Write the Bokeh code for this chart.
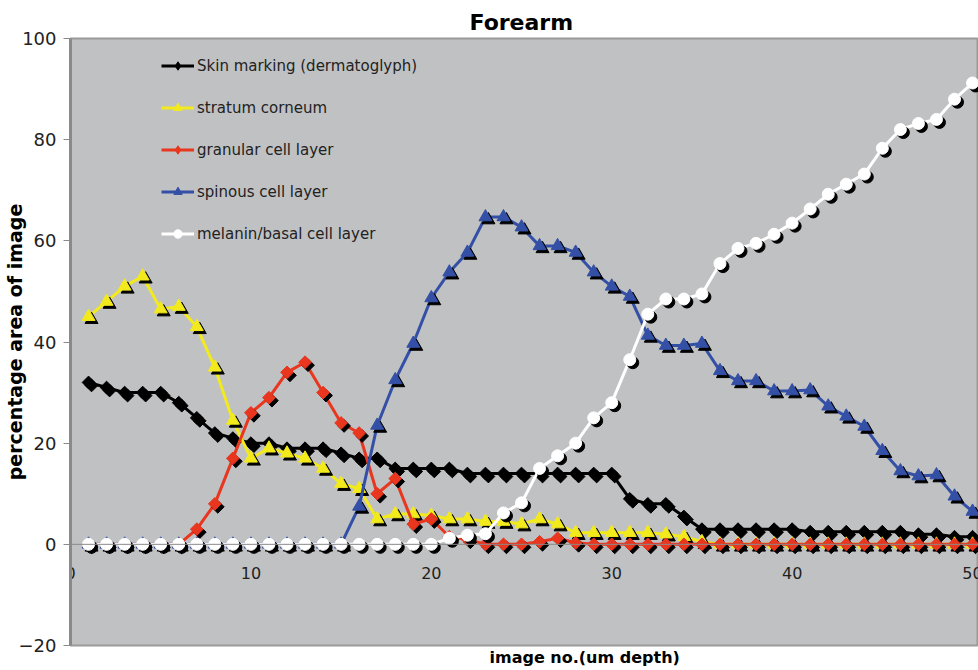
import math
from bokeh.plotting import figure
from bokeh.models import Range1d, FixedTicker, Legend, LegendItem, Span, Title
from bokeh.core.properties import value
from bokeh.embed import file_html
from bokeh.resources import INLINE

# ---------------- data ----------------
image_no = list(range(1, 51))

skin_marking = [32, 31, 30, 30, 30, 28, 25, 22, 21, 20,
                20, 19, 19, 19, 18, 17, 17, 15, 15, 15,
                15, 14, 14, 14, 14, 14, 14, 14, 14, 14,
                9, 8, 8, 5.5, 3, 3, 3, 3, 3, 3,
                2.5, 2.5, 2.5, 2.5, 2.5, 2.5, 2, 2, 1.5, 1.5]

stratum_corneum = [45, 48, 51, 53, 46.5, 47, 43, 35, 24.5, 17,
                   19, 18, 17, 15, 12, 11, 5, 6, 6, 5.7,
                   5, 5, 4.5, 4.5, 4, 5, 4, 2.3, 2.3, 2.3,
                   2.3, 2.3, 2, 1.5, 0.5, 0, 0, 0, 0, 0,
                   0, 0, 0, 0, 0, 0, 0, 0, 0, 0]

granular = [0, 0, 0, 0, 0, 0, 3, 8, 17, 26,
            29, 34, 36, 30, 24, 22, 10, 13, 4, 5,
            1.5, 1, 0, 0, 0, 0.5, 1.2, 0.3, 0, 0,
            0, 0, 0, 0, 0, 0, 0, 0, 0, 0,
            0, 0, 0, 0, 0, 0, 0, 0, 0, 0]

spinous = [0, 0, 0, 0, 0, 0, 0, 0, 0, 0,
           0, 0, 0, 0, 0, 7.5, 23.5, 32.5, 39.7, 48.7,
           53.8, 57.7, 64.7, 64.7, 62.7, 59, 59, 57.7, 53.8, 51,
           49, 41.3, 39.3, 39.3, 39.7, 34.3, 32.3, 32.3, 30.3, 30.3,
           30.5, 27.3, 25.3, 23.3, 18.5, 14.5, 13.5, 13.7, 9.5, 6.5]

melanin = [0, 0, 0, 0, 0, 0, 0, 0, 0, 0,
           0, 0, 0, 0, 0, 0, 0, 0, 0, 0,
           1.2, 1.8, 2.1, 6.2, 8.2, 15, 17.5, 20, 25, 28,
           36.5, 45.5, 48.5, 48.5, 49.5, 55.5, 58.5, 59.5, 61.3, 63.5,
           66.3, 69.2, 71.2, 73.2, 78.3, 82, 83.2, 84, 88, 91.2]

labels = ["Skin marking (dermatoglyph)", "stratum corneum", "granular cell layer",
          "spinous cell layer", "melanin/basal cell layer"]
values = [skin_marking, stratum_corneum, granular, spinous, melanin]
colors = ["#000000", "#f2ea1c", "#e8361f", "#3450a6", "#ffffff"]
markers = ["diamond", "triangle", "diamond", "triangle", "circle"]

y_ticks = [-20, 0, 20, 40, 60, 80, 100]
x_ticks = [0, 10, 20, 30, 40, 50]
x_tick_labels = ["0", "10", "20", "30", "40", "50"]

# ---------------- layout ----------------
W, H = 978, 670
BL, BR, BT, BB = 66, 0, 38, 25
X0, X1 = 0, 50.33
Y0, Y1 = -20, 100
FW, FH = W - BL - BR, H - BT - BB

p = figure(width=W, height=H, x_range=Range1d(X0, X1), y_range=Range1d(Y0, Y1),
           output_backend="svg", toolbar_location=None, x_axis_location=None,
           min_border_left=BL, min_border_right=BR, min_border_top=BT, min_border_bottom=BB,
           background_fill_color="#c0c1c3", border_fill_color="white")
p.grid.grid_line_color = None
p.outline_line_color = "#9a9a9a"
p.outline_line_width = 2

p.title.text = "Forearm"
p.title.align = "left"
p.title.offset = 399
p.title.text_font = "DejaVu Sans"
p.title.text_font_style = "bold"
p.title.text_font_size = "22px"
p.title.text_color = "black"
p.title.standoff = 8

ax = p.yaxis[0]
ax.ticker = FixedTicker(ticks=y_ticks)
ax.axis_line_color = "#8a8a8a"
ax.axis_line_width = 3
ax.major_tick_line_color = "#8a8a8a"
ax.major_tick_line_width = 1
ax.major_tick_out = 7
ax.major_tick_in = 0
ax.minor_tick_out = 0
ax.minor_tick_in = 0
ax.major_label_standoff = 7
ax.major_label_text_font = "DejaVu Sans"
ax.major_label_text_font_size = "18px"
ax.major_label_text_color = "#222222"
ax.axis_label = "percentage area of image"
ax.axis_label_standoff = -10
ax.axis_label_text_font = "DejaVu Sans"
ax.axis_label_text_font_style = "bold"
ax.axis_label_text_font_size = "19px"
ax.axis_label_text_color = "black"

p.add_layout(Title(text="image no.(um depth)", align="left", offset=419, standoff=0,
                   text_font="DejaVu Sans", text_font_style="bold", text_font_size="16px",
                   text_color="black"), "below")

p.add_layout(Span(location=0, dimension="width", line_color="#8a8a8a", line_width=1))

# x tick labels sit on the y=0 line, inside the plot area
p.text(x=x_ticks, y=[0] * len(x_ticks), text=x_tick_labels, text_align="center",
       text_baseline="middle", y_offset=29, text_font=value("DejaVu Sans"),
       text_font_size="16px", text_color="#222222")

dx = 3 * (X1 - X0) / FW
dy = 3 * (Y1 - Y0) / FH

items = []
for lab, vals, col, mk in zip(labels, values, colors, markers):
    lr = p.line(image_no, vals, line_color=col, line_width=3)
    if mk == "diamond":
        kw = dict(marker="square", angle=math.pi / 4, size=9)
        # diamond used for the legend swatch; fully hidden under the plotted markers
        legend_marker = p.scatter(image_no, vals, marker="diamond", size=9,
                                  fill_color=col, line_color=col)
    else:
        kw = dict(marker="triangle", size=13) if mk == "triangle" else dict(marker="circle", size=12)
        legend_marker = None
    p.scatter([v + dx for v in image_no], [v - dy for v in vals],
              fill_color="black", line_color="black", **kw)
    mr = p.scatter(image_no, vals, fill_color=col, line_color=col, **kw)
    items.append(LegendItem(label=lab, renderers=[lr, legend_marker or mr]))

legend = Legend(items=items, location=(91, 401), glyph_width=33, glyph_height=21,
                label_height=21, spacing=21, padding=0, margin=0, label_standoff=3,
                background_fill_alpha=0, border_line_alpha=0,
                label_text_font="DejaVu Sans", label_text_font_size="15px",
                label_text_color="#222222")
p.add_layout(legend)

open("out.html", "w").write(file_html(p, INLINE))
